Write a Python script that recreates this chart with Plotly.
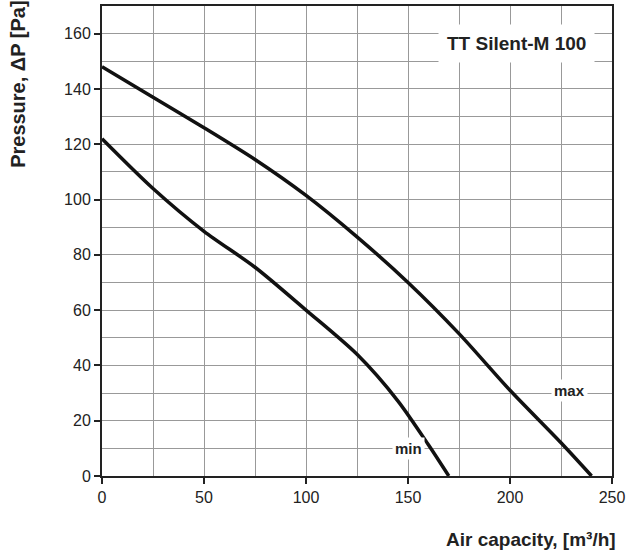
import plotly.graph_objects as go

max_x = [0, 25, 50, 75, 100, 125, 150, 175, 200, 225, 240]
max_y = [148, 137, 126, 114.5, 101.5, 86.5, 70, 51.5, 31, 12, 0]
min_x = [0, 25, 50, 75, 100, 125, 145, 160, 170]
min_y = [122, 104, 88.5, 75.5, 60, 44, 27.2, 11.3, 0]

x_ticks = [0, 50, 100, 150, 200, 250]
y_ticks = [0, 20, 40, 60, 80, 100, 120, 140, 160]

fig = go.Figure()
for xs, ys in [(max_x, max_y), (min_x, min_y)]:
    fig.add_trace(go.Scatter(x=xs, y=ys, mode="lines",
                             line=dict(color="#111", width=3.5, shape="spline", smoothing=0.8),
                             showlegend=False, hoverinfo="skip"))

font = dict(family="Liberation Sans, Arial, sans-serif", color="#222")
fig.add_annotation(x=229, y=31, text="<b>max</b>", showarrow=False, bgcolor="white",
                   font=dict(size=15, **font), borderpad=2)
fig.add_annotation(x=150, y=10, text="<b>min</b>", showarrow=False, bgcolor="white",
                   font=dict(size=15, **font), borderpad=2)
fig.add_annotation(x=203, y=156.5, text="<b>TT Silent-M 100</b>", showarrow=False, bgcolor="white",
                   font=dict(size=19, **font), borderpad=8)

fig.update_layout(
    width=628, height=556,
    margin=dict(l=102, r=16, t=6, b=80),
    plot_bgcolor="white", paper_bgcolor="white",
    font=dict(size=16, **font),
    xaxis=dict(range=[0, 250], tickvals=x_ticks, ticks="outside", ticklen=6, tickwidth=2,
               tickcolor="#222", showline=True, linecolor="#222", linewidth=2, mirror=True,
               showgrid=True, gridcolor="#999", gridwidth=1, zeroline=False, automargin=False,
               tickfont=dict(size=16, **font),
               minor=dict(dtick=25, showgrid=True, gridcolor="#999", gridwidth=1)),
    yaxis=dict(range=[0, 170], tickvals=y_ticks, ticks="outside", ticklen=6, tickwidth=2,
               tickcolor="#222", showline=True, linecolor="#222", linewidth=2, mirror=True,
               showgrid=True, gridcolor="#999", gridwidth=1, zeroline=False, automargin=False,
               tickfont=dict(size=16, **font),
               minor=dict(dtick=10, showgrid=True, gridcolor="#999", gridwidth=1)),
)
fig.add_annotation(xref="paper", yref="paper", x=-0.165, y=0.834, xanchor="center", yanchor="middle",
                   textangle=-90, text="<b>Pressure, ΔP [Pa]</b>", showarrow=False,
                   font=dict(size=20, **font))
fig.add_annotation(xref="paper", yref="paper", x=1.012, y=-0.136, xanchor="right", yanchor="middle",
                   text="<b>Air capacity, [m³/h]</b>", showarrow=False, font=dict(size=19, **font))

fig.write_html("out.html", config={"displayModeBar": False},
               post_script="document.body.style.margin='0';")
